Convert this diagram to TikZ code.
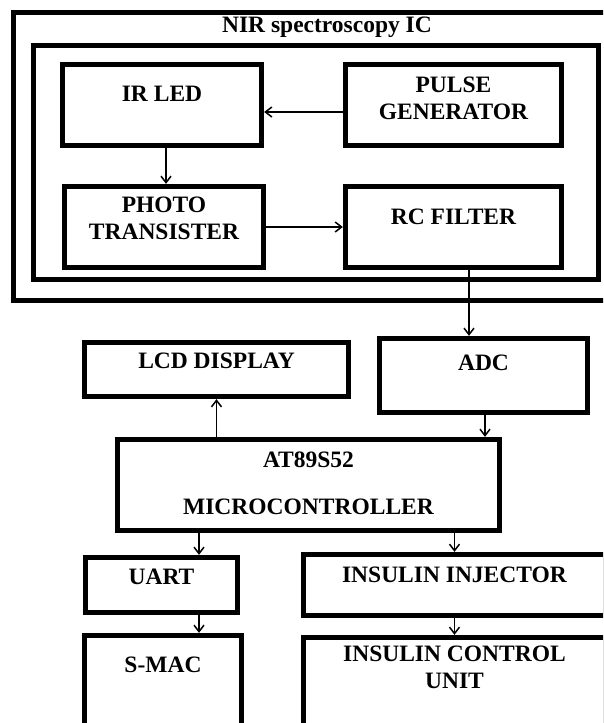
\documentclass[tikz,border=0pt]{standalone}
\usepackage{fontspec}
\setmainfont{Liberation Serif}
\usetikzlibrary{positioning,calc,arrows.meta}
\tikzset{
    blockbox/.style={
        draw,
        line width=4.8pt,
        inner sep=0pt
    },
    blocktext/.style={
        font=\bfseries\fontsize{23.5}{27}\selectfont,
        align=center,
        inner sep=0pt,
        anchor=center
    },
    arr/.style={
        -{Straight Barb[length=6.5pt,width=10pt]},
        line width=1.5pt
    }
}

\begin{document}
\begin{tikzpicture}[x=1pt, y=-1pt]
        \useasboundingbox (0,0) rectangle (603,723);
        \clip (0,0) rectangle (603,723);

        \draw[blockbox] (13.75,12.25) rectangle (625,300.75);
        \draw[blockbox] (33.25,45.25) rectangle (598.5,279.75);
        \node[blocktext] (title) at (327,27) {NIR spectroscopy IC};

        \node[blockbox, minimum width=199.5, minimum height=81.5,
            label={[blocktext, yshift=-31.75pt]north:IR LED}] (irled) at (162,105) {};
        \node[blockbox, minimum width=216.5, minimum height=81.5,
            label={[blocktext, yshift=-36.25pt]north:{PULSE\\GENERATOR}}] (pulse) at (453.5,105) {};
        \node[blockbox, minimum width=199.5, minimum height=81.5,
            label={[blocktext, yshift=-34.25pt]north:{PHOTO\\TRANSISTER}}] (photo) at (164,227) {};
        \node[blockbox, minimum width=216.5, minimum height=81.5,
            label={[blocktext, yshift=-32.75pt]north:RC FILTER}] (rc) at (453.5,227) {};

        \node[blockbox, minimum width=264.5, minimum height=54.5,
            label={[blocktext, yshift=-20.75pt]north:LCD DISPLAY}] (lcd) at (216.5,369.5) {};
        \node[blockbox, minimum width=208.5, minimum height=74.5,
            label={[blocktext, yshift=-26.75pt]north:ADC}] (adc) at (483.5,375.5) {};
        \node[blockbox, minimum width=382.5, minimum height=91.5,
            label={[blocktext, yshift=-46.25pt]north:{AT89S52\\[20pt]MICROCONTROLLER}}] (mcu) at (308.5,485) {};

        \node[blockbox, minimum width=152.5, minimum height=55.5,
            label={[blocktext, yshift=-21.75pt]north:UART}] (uart) at (161.5,585) {};
        \node[blockbox, minimum width=302.5, minimum height=61.5,
            label={[blocktext, yshift=-22.75pt]north:INSULIN INJECTOR}] (inj) at (454.5,585) {};
        \node[blockbox, minimum width=157.5, minimum height=97.5,
            label={[blocktext, yshift=-31.75pt]north:S-MAC}] (smac) at (163,684) {};
        \node[blockbox, minimum width=302.5, minimum height=95.5,
            label={[blocktext, yshift=-32.75pt]north:{INSULIN CONTROL\\UNIT}}] (ctrl) at (454.5,685) {};

        \coordinate (ledout) at ([xshift=4pt]irled.south);
        \coordinate (rcout) at ([xshift=15.5pt]rc.south);
        \coordinate (adcout) at ([xshift=1.5pt]adc.south);
        \coordinate (uartout) at ([xshift=37.5pt]uart.south);
        \coordinate (mcuout) at (uartout |- mcu.south);

        \draw[arr] ([yshift=-7pt]pulse.west) -- ([yshift=-7pt]irled.east);
        \draw[arr] (ledout) -- (ledout |- photo.north);
        \draw[arr] (photo.east) -- (photo.east -| rc.west);
        \draw[arr] (rcout) -- (rcout |- adc.north);
        \draw[arr] (mcu.north -| lcd.south) -- (lcd.south);
        \draw[arr] (adcout) -- (adcout |- mcu.north);
        \draw[arr] (mcuout) -- (mcuout |- uart.north);
        \draw[arr] (mcu.south -| inj.north) -- (inj.north);
        \draw[arr] (uartout) -- (uartout |- smac.north);
        \draw[arr] (inj.south) -- (ctrl.north);
    \end{tikzpicture}
\end{document}
